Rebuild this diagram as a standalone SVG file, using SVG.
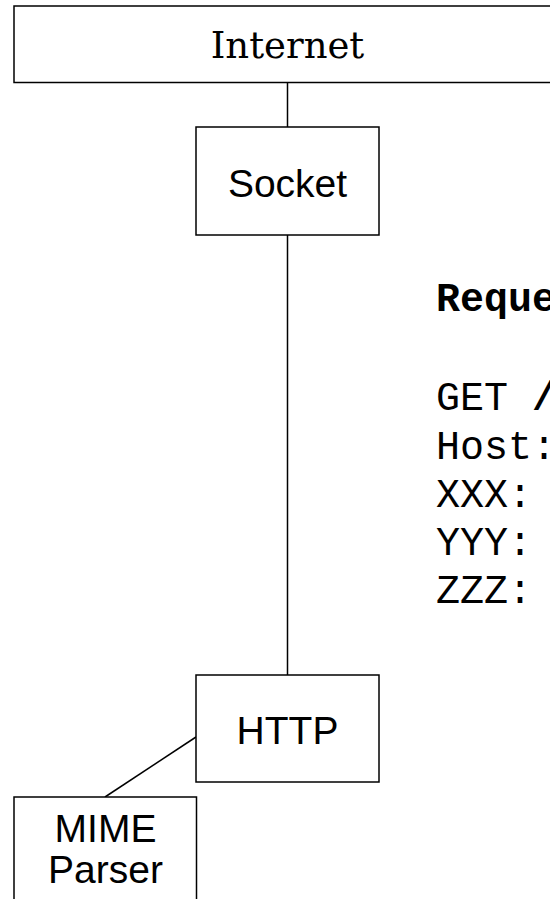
<svg xmlns="http://www.w3.org/2000/svg" width="550" height="899" viewBox="0 0 550 899">
  <style>
    .box { fill: #ffffff; stroke: #000000; stroke-width: 1.5; }
    .edge { stroke: #000000; stroke-width: 1.5; fill: none; }
    .label { font-family: "Liberation Sans", Arial, sans-serif; font-size: 39px; fill: #000000; text-anchor: middle; }
    .title { font-family: "DejaVu Serif", "Liberation Serif", serif; font-size: 37px; fill: #000000; text-anchor: middle; }
    .code { font-family: "Liberation Mono", "Courier New", monospace; font-size: 40px; fill: #000000; }
    .bold { font-weight: bold; }
  </style>
  <rect x="0" y="0" width="550" height="899" fill="#ffffff"/>

  <!-- connectors -->
  <g id="connectors">
    <line class="edge" x1="287.5" y1="82.5" x2="287.5" y2="127"/>
    <line class="edge" x1="287.5" y1="235" x2="287.5" y2="675"/>
    <line class="edge" x1="196" y1="737" x2="105" y2="797"/>
  </g>

  <g id="internet">
    <rect class="box" x="14" y="6" width="560" height="76.5"/>
    <text class="title" x="287.5" y="58">Internet</text>
  </g>

  <g id="socket">
    <rect class="box" x="196" y="127" width="183" height="108"/>
    <text class="label" x="287.5" y="197">Socket</text>
  </g>

  <g id="http">
    <rect class="box" x="196" y="675" width="183" height="107"/>
    <text class="label" x="287.5" y="744">HTTP</text>
  </g>

  <g id="mime-parser">
    <rect class="box" x="14" y="797" width="182.5" height="120"/>
    <text class="label" x="105.5" y="842">MIME</text>
    <text class="label" x="105.5" y="883">Parser</text>
  </g>

  <!-- request listing -->
  <g id="request">
    <text class="code bold" x="436" y="311">Reque</text>
    <text class="code" x="436" y="410">GET <tspan class="bold">/</tspan></text>
    <text class="code" x="436" y="458.5">Host:</text>
    <text class="code" x="436" y="506.5">XXX:</text>
    <text class="code" x="436" y="554.5">YYY:</text>
    <text class="code" x="436" y="602.5">ZZZ:</text>
  </g>
</svg>
